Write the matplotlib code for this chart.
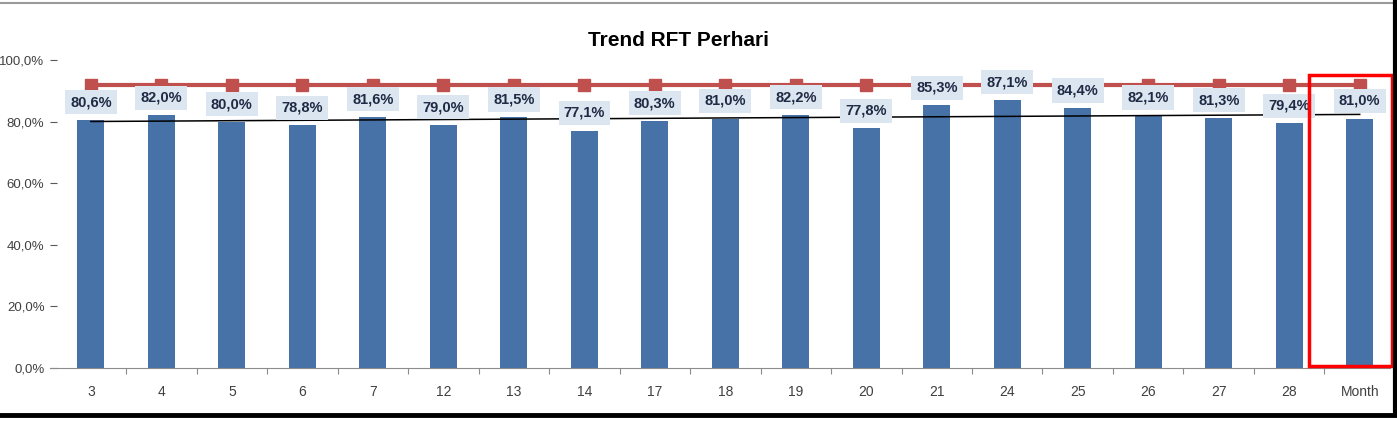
import matplotlib

matplotlib.use("Agg")

import matplotlib.pyplot as plt
import numpy as np
from matplotlib.lines import Line2D
from matplotlib.patches import Rectangle

plt.rcParams["font.family"] = ["Liberation Sans", "DejaVu Sans"]

days = ["3", "4", "5", "6", "7", "12", "13", "14", "17", "18", "19", "20",
        "21", "24", "25", "26", "27", "28", "Month"]
rft = [80.6, 82.0, 80.0, 78.8, 81.6, 79.0, 81.5, 77.1, 80.3, 81.0, 82.2, 77.8,
       85.3, 87.1, 84.4, 82.1, 81.3, 79.4, 81.0]
target = [92.0] * len(days)
y_ticks = [0, 20, 40, 60, 80, 100]

BAR = "#4672A8"
RED = "#C0504D"
W, H = 1397, 421


def pct(v):
    return f"{v:.1f}%".replace(".", ",")


fig = plt.figure(figsize=(W / 100, H / 100), dpi=100)
ax = fig.add_axes([50 / W, 1 - 368 / H, (1390 - 50) / W, (368 - 60) / H])

x = np.arange(len(days))
vals = np.array(rft) / 100
ax.bar(x, vals, width=0.38, color=BAR, zorder=2)
ax.plot(x, np.array(target) / 100, color=RED, lw=3, marker="s", ms=9, zorder=3)

# linear trendline over the bars
coef = np.polyfit(x, vals, 1)
ax.plot(x, np.polyval(coef, x), color="black", lw=1.1, zorder=4)

for xi, v in zip(x, rft):
    ax.text(xi, v / 100 + 0.057, pct(v), ha="center", va="center", fontsize=10.5,
            fontweight="bold", color="#1F2A44", zorder=5,
            bbox=dict(boxstyle="square,pad=0.35", fc="#DCE6F0", ec="none"))

ax.set_ylim(0, 1)
ax.set_xlim(-0.58, len(days) - 1 + 0.43)
ax.set_yticks(np.array(y_ticks) / 100)
ax.set_yticklabels([pct(t) for t in y_ticks])
ax.set_xticks(x)
ax.set_xticklabels(days)
ax.set_xticks(np.arange(len(days) - 1) + 0.5, minor=True)
ax.tick_params(axis="y", direction="in", length=5, width=0.8, color="#595959",
               labelsize=9.5, labelcolor="#404040", pad=4)
ax.tick_params(axis="x", which="major", length=0, labelsize=10,
               labelcolor="#404040", pad=12)
ax.tick_params(axis="x", which="minor", direction="out", length=4,
               width=0.8, color="#8C8C8C")
for side in ["top", "right", "left"]:
    ax.spines[side].set_visible(False)
ax.spines["bottom"].set_color("#8C8C8C")

fig.text(679 / W, 1 - 40 / H, "Trend RFT Perhari", ha="center", va="center",
         fontsize=15, fontweight="bold", color="black")

# highlight box around the Month column
fig.add_artist(Rectangle((1309 / W, 1 - 366 / H), (1392 - 1309) / W, (366 - 75) / H,
                         transform=fig.transFigure, fill=False, ec="#FF0000", lw=2.5))

# outer frame
fig.add_artist(Line2D([0, 1], [1 - 2.5 / H] * 2, transform=fig.transFigure,
                      color="#9A9A9A", lw=1.5))
fig.add_artist(Line2D([1394.5 / W] * 2, [1 - 415 / H, 1], transform=fig.transFigure,
                      color="black", lw=3))
fig.add_artist(Line2D([0, 1394.5 / W], [1 - 415 / H] * 2, transform=fig.transFigure,
                      color="black", lw=3.5))

fig.savefig("out.png", dpi=100)
